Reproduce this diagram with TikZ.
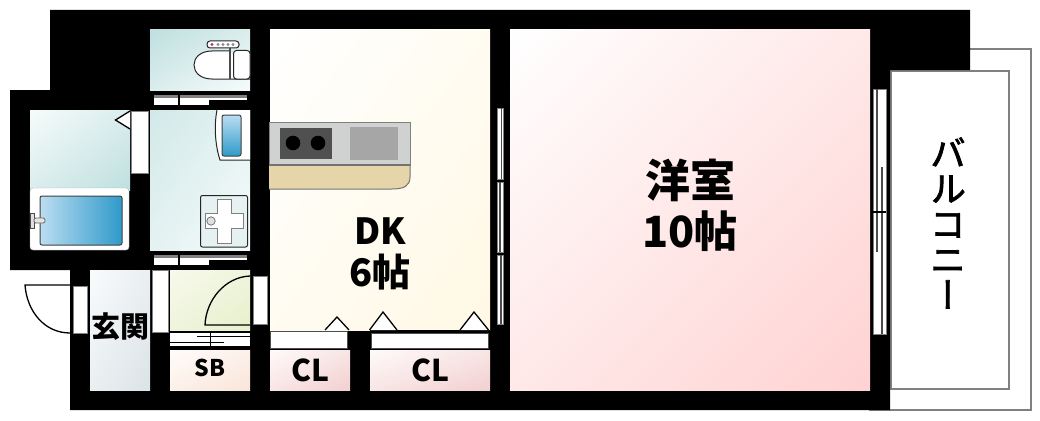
\documentclass[tikz,border=0pt]{standalone}
\usepackage{fontspec}
\setmainfont{Noto Sans CJK JP}
\newfontfamily\vertfont[RawFeature=+vert,FakeBold=2]{Noto Sans CJK JP}
\usepackage{xcolor}
\definecolor{wallDark}{HTML}{000000}
\definecolor{lineGray}{HTML}{808080}
\definecolor{counterGray}{HTML}{D0D2D2}
\definecolor{counterTan}{HTML}{E6D5A8}
\definecolor{stoveDark}{HTML}{505050}
\definecolor{sinkGray}{HTML}{A6A6A6}
\definecolor{tealDeep}{HTML}{BFDFDF}
\definecolor{tealPale}{HTML}{F6FBFB}
\definecolor{panTeal}{HTML}{E6F1F1}
\definecolor{waterLight}{HTML}{BBDDF2}
\definecolor{waterDeep}{HTML}{2F9AC9}
\definecolor{entryPale}{HTML}{F9FBFC}
\definecolor{entryDeep}{HTML}{DBE3E7}
\definecolor{sproutPale}{HTML}{F7F9EC}
\definecolor{sproutDeep}{HTML}{E7F0CC}
\definecolor{sandPale}{HTML}{FFFCFA}
\definecolor{sandDeep}{HTML}{F9E5D9}
\definecolor{creamDeep}{HTML}{FFF8E4}
\definecolor{rosePale}{HTML}{FFFAFA}
\definecolor{roseDeep}{HTML}{F2D0D0}
\definecolor{blushDeep}{HTML}{FFD2D2}
\usetikzlibrary{positioning,calc,shadings}
\tikzset{%
  roomFill/.style 2 args={%
    upper left=#1,
    lower right=#2,
    upper right=#1!50!#2,
    lower left=#1!50!#2
  },
  doorSlot/.style={%
    fill=white,
    draw=lineGray,
    line width=0.6pt
  },
  fixtureLine/.style={%
    draw=black!85,
    fill=white,
    line width=1pt
  },
  swingLine/.style={%
    draw=black,
    line width=1.3pt
  },
  closetPeak/.style={%
    draw=black,
    fill=white,
    line width=1.3pt,
    line join=miter
  },
  balconyLine/.style={%
    draw=lineGray,
    line width=1.4pt
  },
  paneBar/.style={%
    draw=black!70,
    line width=1.6pt
  },
  roomLabel/.style={%
    align=center,
    inner sep=0pt,
    font=\bfseries
  }
}

\begin{document}
\begin{tikzpicture}[x=1pt,y=-1pt]
            \useasboundingbox (0,0) rectangle (1040,420);

            % balcony
            \draw[balconyLine] (940,49) -- (1031,49) -- (1031,410) -- (869,410);
            \draw[balconyLine] (891,71) -- (1009,71) -- (1009,389) -- (891,389) -- cycle;

            % walls
            \fill[wallDark] (50,10) -- (970,10) -- (970,70) -- (890,70) -- (890,410) -- (70,410) -- (70,270)
                -- (10,270) -- (10,90) -- (50,90) -- cycle;

            % rooms
            \shade[roomFill={tealDeep}{tealPale}] (150,30) rectangle (250,90);
            \shade[roomFill={tealPale}{tealDeep}] (30,110) rectangle (130,190);
            \shade[roomFill={tealDeep!70!white}{tealPale}] (150,110) rectangle (250,250);
            \shade[roomFill={entryPale}{entryDeep}] (90,270) rectangle (150,390);
            \shade[roomFill={sproutPale}{sproutDeep}] (170,270) rectangle (250,330);
            \shade[roomFill={sandPale}{sandDeep}] (170,350) rectangle (250,390);
            \shade[roomFill={white}{creamDeep}] (270,30) rectangle (490,330);
            \shade[roomFill={rosePale}{roseDeep}] (270,350) rectangle (350,390);
            \shade[roomFill={rosePale}{roseDeep}] (370,350) rectangle (490,390);
            \shade[roomFill={white}{blushDeep}] (510,30) rectangle (870,390);

            % toilet
            \draw[fixtureLine, rounded corners=3pt] (207,41) rectangle (239,48);
            \fill[magenta!80!black] (212,44.5) circle (1.7pt);
            \foreach \dotx in {218,223,228,233}
                \fill[black!45] (\dotx,44.5) circle (1.7pt);
            \draw[fixtureLine] (230,51) -- (212,51) .. controls (188,51) and (188,79) .. (212,79) -- (250,79);
            \draw[fixtureLine, rounded corners=3pt] (233.5,50.5) -- (250,50.5) -- (250,79) -- (233.5,79) -- cycle;
            \draw[line width=1.6pt, black!70] (230,48) -- (230,79);

            % doors to the wet rooms
            \foreach \doory in {95,255}{
                \fill[white] (154,\doory) rectangle (247,\doory+10);
                \fill[lineGray] (154,\doory) rectangle (247,\doory+3);
                \fill[black] (178,\doory) rectangle (180,\doory+10);
                \fill[black] (209,\doory+5) rectangle (247,\doory+10);
                \fill[white] (209,\doory+3) rectangle (247,\doory+5);
            }
            \fill[doorSlot] (131,111) rectangle (148,173);
            \draw[closetPeak] (130,111) -- (115.5,120) -- (130,129);

            % wash basin
            \fill[white] (217,110) .. controls (214,125) and (215,145) .. (220,160) -- (250,160) -- (250,110) -- cycle;
            \draw[fixtureLine, fill=none] (217,110) .. controls (214,125) and (215,145) .. (220,160) -- (250,160);
            \shade[top color=waterLight, bottom color=waterDeep, draw=black!75, line width=1pt, rounded corners=2pt] (222,115) rectangle (241,156);

            % washing machine pan
            \draw[fixtureLine, fill=panTeal, rounded corners=2pt] (200.5,195.5) rectangle (247.5,247);
            \draw[lineGray, fill=white, line width=0.7pt] (217,199) -- (231,199) -- (231,213) -- (243,213) -- (243,228) -- (231,228) -- (231,243)
                -- (217,243) -- (217,228) -- (205,228) -- (205,213) -- (217,213) -- cycle;
            \draw[black!55, line width=0.8pt, fill=black!12] (211,221) circle (4.2pt);

            % bath tub
            \fill[white, draw=black!30, rounded corners=3pt] (30,188) rectangle (129,250);
            \shade[left color=waterLight, right color=waterDeep, draw=black!75, line width=1pt, rounded corners=2pt] (40,196) rectangle (122,245);
            \draw[black!70, fill=black!12, line width=0.8pt] (30,213) rectangle (34,228);
            \draw[black!60, fill=black!10, line width=0.8pt, rounded corners=1.5pt] (34,218) rectangle (45,223);

            % kitchen
            \fill[counterGray, draw=lineGray, line width=1pt] (269,122) rectangle (410,165);
            \fill[counterTan, draw=black!55, line width=1pt] (269,165) -- (410,165) -- (410,177) .. controls (410,186) and (404,189) .. (392,189) -- (269,189);
            \draw[black!55, line width=1.2pt] (269,165) -- (410,165);
            \fill[stoveDark] (280,128) rectangle (332,159);
            \foreach \burnerx in {293,318}
                \fill[black] (\burnerx,143) circle (7.3pt);
            \fill[sinkGray] (350,127) rectangle (398,160);

            % entrance door
            \fill[doorSlot] (73,286) rectangle (87,333);
            \draw[swingLine] (70,285) -- (25,285) .. controls (27,312) and (45,333) .. (70,333);
            \fill[doorSlot] (152,270) rectangle (168,332);

            % door to the small room
            \fill[doorSlot] (253,276) rectangle (267,324);
            \draw[swingLine] (250,325) -- (205,325) .. controls (206,300) and (225,277) .. (250,276);

            % storage shelf
            \fill[white] (170,333) rectangle (250,347);
            \draw[black, line width=1.2pt] (170,331.5) -- (250,331.5);
            \draw[black, line width=1pt] (197,336.5) -- (250,336.5);
            \draw[black, line width=1pt] (170,342.5) -- (224,342.5);
            \draw[black, line width=1pt] (210,333) -- (210,347);
            \fill[black] (170,346) rectangle (250,350);

            % closet doors
            \fill[doorSlot, draw=black!70, line width=1pt] (270.5,331.5) rectangle (347.5,348);
            \fill[doorSlot, draw=black!70, line width=1pt] (371,333) rectangle (488,348);
            \fill[black] (370,330) rectangle (490,332.5);
            \draw[closetPeak] (325,330) -- (337,317) -- (349,330);
            \draw[closetPeak] (369.5,330) -- (383,312) -- (397,330);
            \draw[closetPeak] (460,330) -- (474,312) -- (488.5,330);

            % window to the western room
            \foreach \panetop/\panebot/\panebar in {108/179/501.5,182/252/500,255/324/501}{
                \fill[white, draw=lineGray, line width=0.6pt] (497,\panetop) rectangle (503,\panebot);
                \draw[paneBar] (\panebar,\panetop) -- (\panebar,\panebot);
            }

            % window to the balcony
            \fill[white, draw=lineGray, line width=0.6pt] (873,89) rectangle (886,334);
            \draw[paneBar] (877,89) -- (877,252);
            \draw[paneBar] (882,167) -- (882,334);
            \draw[black, line width=2pt] (873,212) -- (886,212);

            % labels
            \node[roomLabel, font=\bfseries\fontsize{45}{50}\selectfont] (western) at (690,205) {洋室\\\fontsize{43}{50}\selectfont 10帖};
            \node[roomLabel, font=\bfseries\fontsize{36}{42}\selectfont] (dining) at (380,254) {DK\\\fontsize{38}{42}\selectfont 6帖};
            \node[roomLabel, font=\bfseries\fontsize{29}{32}\selectfont] (entrance) at (120,327) {玄関};
            \node[roomLabel, font=\bfseries\fontsize{23}{26}\selectfont] (storage) at (210,368) {SB};
            \node[roomLabel, font=\bfseries\fontsize{30}{34}\selectfont] (closetA) at (310,370) {CL};
            \node[roomLabel, font=\bfseries\fontsize{30}{34}\selectfont] (closetB) at (430,370) {CL};
            \node[roomLabel, font=\vertfont\fontsize{36}{35.5}\selectfont] (balcony) at (948,223) {バ\\ル\\コ\\ニ\\ー};
        \end{tikzpicture}
\end{document}
